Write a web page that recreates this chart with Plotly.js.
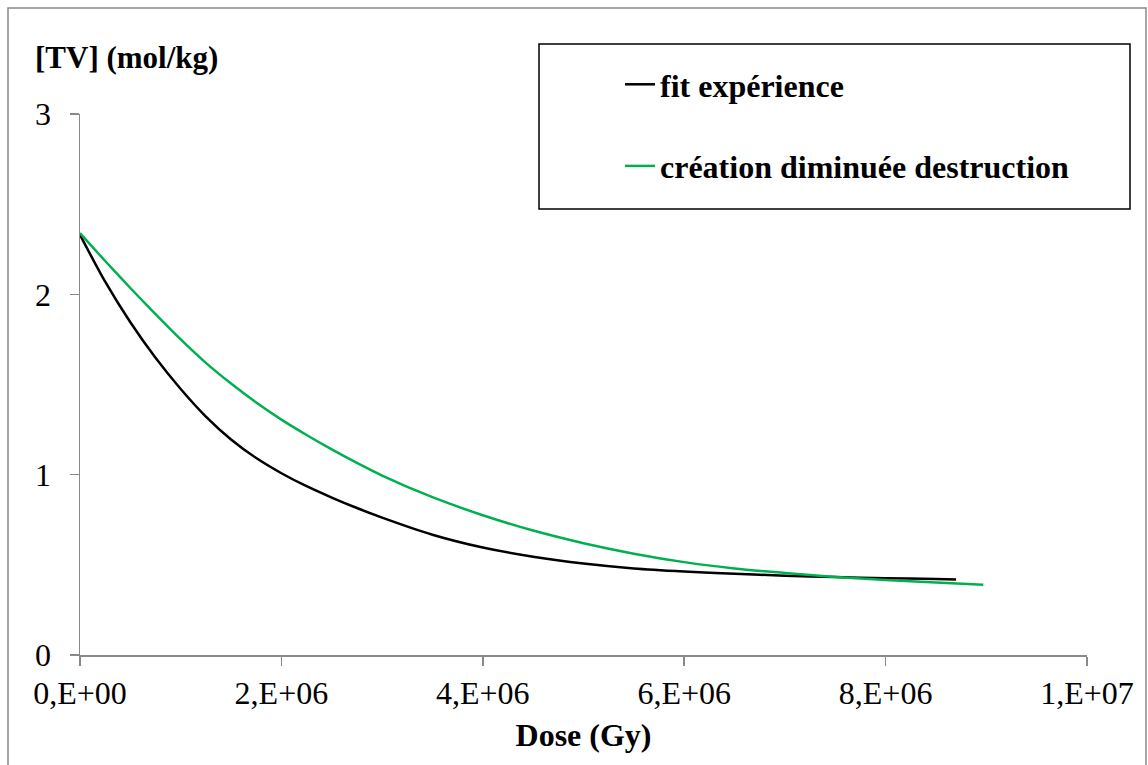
<!DOCTYPE html>
<html>
<head>
<meta charset="utf-8">
<script src="https://cdn.plot.ly/plotly-3.0.1.min.js"></script>
<style>html,body{margin:0;padding:0;background:#fff;}#chart{width:1148px;height:765px;}</style>
</head>
<body>
<div id="chart"></div>
<script>
// Data
const doseFit = [0, 0.25e6, 0.5e6, 0.75e6, 1.0e6, 1.25e6, 1.5e6, 1.75e6, 2.0e6, 2.25e6, 2.5e6, 2.75e6, 3.0e6, 3.5e6, 4.0e6, 4.5e6, 5.0e6, 5.5e6, 6.0e6, 6.5e6, 7.0e6, 7.5e6, 8.0e6, 8.5e6, 8.7e6];
const tvFit = [2.33, 2.07, 1.845, 1.648, 1.475, 1.322, 1.195, 1.092, 1.008, 0.936, 0.873, 0.815, 0.762, 0.667, 0.596, 0.545, 0.507, 0.48, 0.463, 0.45, 0.44, 0.432, 0.426, 0.421, 0.419];

const doseCreation = [0, 0.25e6, 0.5e6, 0.75e6, 1.0e6, 1.25e6, 1.5e6, 1.75e6, 2.0e6, 2.25e6, 2.5e6, 2.75e6, 3.0e6, 3.5e6, 4.0e6, 4.5e6, 5.0e6, 5.5e6, 6.0e6, 6.5e6, 7.0e6, 7.5e6, 8.0e6, 8.5e6, 8.97e6];
const tvCreation = [2.34, 2.185, 2.035, 1.89, 1.75, 1.62, 1.505, 1.40, 1.305, 1.22, 1.14, 1.065, 0.995, 0.875, 0.775, 0.69, 0.62, 0.562, 0.515, 0.48, 0.455, 0.433, 0.416, 0.402, 0.39];

const seriesNames = ["fit expérience", "création diminuée destruction"];
const xTickVals = [0, 2e6, 4e6, 6e6, 8e6, 1e7];
const xTickText = ["0,E+00", "2,E+06", "4,E+06", "6,E+06", "8,E+06", "1,E+07"];
const yTickVals = [0, 1, 2, 3];
const yTickText = ["0", "1", "2", "3"];

const FONT = "Liberation Serif";

const traces = [
  {x: doseFit, y: tvFit, name: seriesNames[0], mode: "lines", type: "scatter",
   line: {color: "#000000", width: 2.5, shape: "spline", smoothing: 0.8}, legendgroup: "a"},
  {x: doseCreation, y: tvCreation, name: seriesNames[1], mode: "lines", type: "scatter",
   line: {color: "#00B050", width: 2.5, shape: "spline", smoothing: 0.8}, legendgroup: "b"}
];

const W = 1007, H = 541; // plot area px
const px = v => (v - 80) / W;
const py = v => (655 - v) / H;

const layout = {
  width: 1148, height: 765,
  margin: {l: 80, r: 61, t: 114, b: 110, pad: 0},
  paper_bgcolor: "#ffffff", plot_bgcolor: "#ffffff",
  font: {family: FONT, color: "#000000", size: 32},
  showlegend: true,
  legend: {
    x: px(620), y: py(57), xanchor: "left", yanchor: "top",
    bgcolor: "rgba(0,0,0,0)", borderwidth: 0,
    font: {family: FONT, size: 32, color: "#000", weight: "bold"},
    traceorder: "grouped", tracegroupgap: 37, itemwidth: 30
  },
  xaxis: {
    range: [0, 1e7], tickvals: xTickVals, ticktext: xTickText,
    showgrid: false, zeroline: false, showline: true, linecolor: "#898989", linewidth: 1.5,
    ticks: "outside", ticklen: 9, tickwidth: 1.5, tickcolor: "#898989",
    tickfont: {family: FONT, size: 32, color: "#000"},
    title: {text: "<b>Dose (Gy)</b>", font: {family: FONT, size: 32, color: "#000"}, standoff: 13},
    fixedrange: true
  },
  yaxis: {
    range: [0, 3], tickvals: yTickVals, ticktext: yTickText,
    showgrid: false, zeroline: false, showline: true, linecolor: "#898989", linewidth: 1.5,
    ticks: "outside", ticklen: 9, tickwidth: 1.5, tickcolor: "#898989",
    tickfont: {family: FONT, size: 32, color: "#000"},
    ticklabelstandoff: 12,
    fixedrange: true
  },
  annotations: [
    {text: "<b>[TV] (mol/kg)</b>", xref: "paper", yref: "paper", x: px(33), y: py(57),
     xanchor: "left", yanchor: "middle", showarrow: false,
     font: {family: FONT, size: 31, color: "#000"}}
  ],
  shapes: [
    {type: "rect", xref: "paper", yref: "paper", x0: px(539), x1: px(1130), y0: py(209), y1: py(44),
     line: {color: "#000000", width: 1.5}, fillcolor: "rgba(0,0,0,0)", layer: "below"},
    {type: "rect", xref: "paper", yref: "paper", x0: px(8), x1: px(1146), y0: py(790), y1: py(8),
     line: {color: "#898989", width: 1.5}, fillcolor: "rgba(0,0,0,0)", layer: "below"}
  ]
};

Plotly.newPlot("chart", traces, layout, {displayModeBar: false, staticPlot: true});
</script>
</body>
</html>
